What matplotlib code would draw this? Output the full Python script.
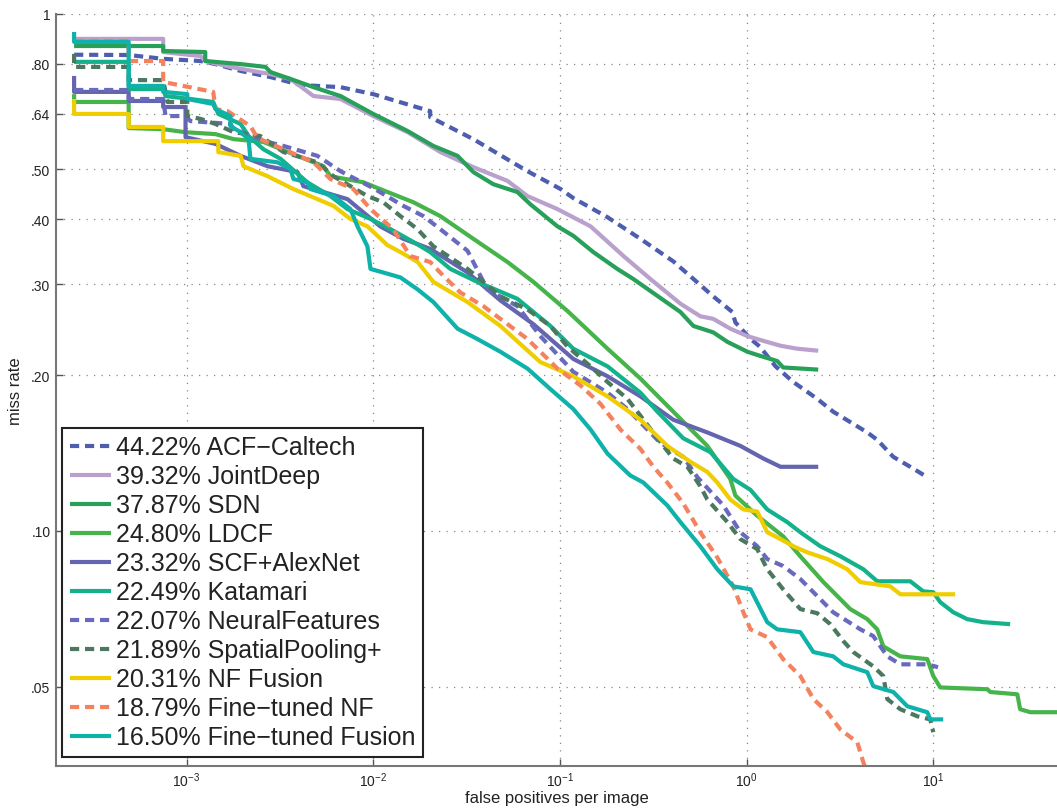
"""
Miss rate vs. false positives per image (Caltech style log-log curves).
"""

import matplotlib
matplotlib.use("Agg")
import matplotlib.pyplot as plt
from matplotlib.ticker import NullLocator, FixedLocator, FixedFormatter

plt.rcParams['font.family'] = ['Liberation Sans', 'DejaVu Sans']
plt.rcParams['mathtext.default'] = 'regular'

# ---- data (fppi, miss rate) ----
acf_fppi = [2.5e-4, 4.9e-4, 7.5e-4, 1.19e-3, 1.43e-3, 1.95e-3, 2.82e-3, 4.08e-3, 6.68e-3, 1.0e-2,
            2.02e-2, 2.02e-2, 3.44e-2, 6.7e-2, 0.101, 0.118, 0.180, 0.270, 0.405, 0.519, 0.663,
            0.839, 0.871, 1.05, 1.18, 1.43, 1.78, 2.39, 2.91, 3.73, 4.43, 5.01, 6.11, 7.53, 9.29]
acf_mr = [0.833, 0.832, 0.818, 0.810, 0.799, 0.775, 0.754, 0.728, 0.721, 0.699,
          0.648, 0.631, 0.572, 0.496, 0.458, 0.440, 0.404, 0.367, 0.332, 0.307, 0.284,
          0.265, 0.253, 0.235, 0.227, 0.208, 0.194, 0.180, 0.170, 0.161, 0.155, 0.150, 0.139, 0.133, 0.127]

jd_fppi = [2.5e-4, 7.5e-4, 7.5e-4, 1.19e-3, 1.26e-3, 1.72e-3, 2.82e-3, 3.60e-3, 4.79e-3, 6.68e-3,
           1.0e-2, 1.53e-2, 2.29e-2, 3.44e-2, 5.24e-2, 6.70e-2, 9.70e-2, 0.146, 0.219, 0.305,
           0.442, 0.565, 0.663, 0.818, 1.01, 1.23, 1.52, 1.87, 2.42]
jd_mr = [0.894, 0.894, 0.843, 0.828, 0.810, 0.789, 0.764, 0.748, 0.693, 0.684,
         0.634, 0.590, 0.540, 0.505, 0.475, 0.444, 0.419, 0.388, 0.340, 0.307,
         0.275, 0.260, 0.257, 0.246, 0.238, 0.233, 0.228, 0.225, 0.223]

sdn_fppi = [2.5e-4, 7.5e-4, 7.5e-4, 1.26e-3, 1.26e-3, 1.95e-3, 2.65e-3, 2.82e-3, 3.60e-3, 4.79e-3,
            6.68e-3, 1.0e-2, 1.53e-2, 2.10e-2, 2.83e-2, 3.44e-2, 4.40e-2, 5.92e-2, 6.95e-2, 9.70e-2,
            0.118, 0.151, 0.203, 0.247, 0.442, 0.519, 0.663, 0.789, 1.01, 1.18, 1.46, 1.57, 2.42]
sdn_mr = [0.866, 0.866, 0.847, 0.843, 0.810, 0.799, 0.789, 0.771, 0.748, 0.721,
          0.693, 0.640, 0.593, 0.555, 0.531, 0.494, 0.468, 0.452, 0.428, 0.388,
          0.372, 0.346, 0.321, 0.307, 0.265, 0.249, 0.242, 0.232, 0.222, 0.218, 0.213, 0.207, 0.205]

ldcf_fppi = [2.5e-4, 2.5e-4, 4.9e-4, 4.9e-4, 7.5e-4, 9.88e-4, 1.43e-3, 1.79e-3, 2.58e-3, 3.93e-3, 5.42e-3,
             5.90e-3, 8.87e-3, 1.09e-2, 1.64e-2, 2.29e-2, 3.44e-2, 5.24e-2, 7.21e-2, 0.110,
             0.180, 0.270, 0.405, 0.616, 0.818, 0.871, 1.14, 1.57, 1.94, 2.58,
             3.59, 4.43, 5.01, 5.40, 6.66, 9.29, 10.0, 10.9, 19.5, 20.2,
             28.2, 29.2, 33.1, 46.1]
ldcf_mr = [0.699, 0.675, 0.675, 0.601, 0.598, 0.590, 0.585, 0.572, 0.565, 0.531, 0.507,
           0.485, 0.472, 0.458, 0.432, 0.406, 0.367, 0.331, 0.303, 0.266,
           0.225, 0.197, 0.170, 0.146, 0.126, 0.117, 0.107, 0.0976, 0.0893, 0.0796,
           0.0706, 0.0675, 0.0645, 0.0598, 0.0572, 0.0565, 0.0524, 0.0498, 0.0494, 0.0488,
           0.0483, 0.0452, 0.0446, 0.0446]

scf_fppi = [2.5e-4, 2.5e-4, 4.9e-4, 4.9e-4, 7.5e-4, 7.5e-4, 9.88e-4, 9.88e-4, 1.43e-3, 1.95e-3, 2.72e-3,
            3.93e-3, 4.23e-3, 7.28e-3, 1.09e-2, 1.45e-2, 2.02e-2, 3.20e-2, 4.80e-2, 7.21e-2,
            0.118, 0.180, 0.270, 0.405, 0.616, 0.926, 1.23, 1.52, 2.42]
scf_mr = [0.758, 0.706, 0.706, 0.678, 0.678, 0.660, 0.660, 0.577, 0.560, 0.531, 0.507,
          0.494, 0.464, 0.438, 0.388, 0.367, 0.351, 0.316, 0.279, 0.251,
          0.215, 0.199, 0.182, 0.164, 0.155, 0.146, 0.138, 0.133, 0.133]

kat_fppi = [2.5e-4, 4.9e-4, 4.9e-4, 7.5e-4, 7.72e-4, 1.05e-3, 1.39e-3, 1.48e-3, 1.95e-3, 2.15e-3,
            2.58e-3, 3.19e-3, 4.44e-3, 5.90e-3, 7.28e-3, 9.67e-3, 1.24e-2, 1.64e-2, 2.02e-2, 2.59e-2,
            3.61e-2, 5.92e-2, 8.89e-2, 0.118, 0.180, 0.270, 0.333, 0.458, 0.640, 0.849,
            1.05, 1.29, 1.65, 1.94, 2.48, 3.18, 4.22, 5.01, 7.53, 8.84,
            10.0, 10.9, 12.8, 15.2, 18.5, 25.8]
kat_mr = [0.807, 0.807, 0.715, 0.715, 0.693, 0.684, 0.675, 0.640, 0.612, 0.580,
          0.547, 0.524, 0.472, 0.444, 0.419, 0.401, 0.383, 0.362, 0.346, 0.321,
          0.303, 0.281, 0.249, 0.225, 0.208, 0.185, 0.170, 0.151, 0.142, 0.126,
          0.120, 0.110, 0.104, 0.0994, 0.0934, 0.0893, 0.0843, 0.0799, 0.0799, 0.0764,
          0.0761, 0.0728, 0.0696, 0.0675, 0.0666, 0.0660]

nf_fppi = [2.5e-4, 4.9e-4, 4.9e-4, 7.5e-4, 7.72e-4, 9.88e-4, 1.05e-3, 1.72e-3, 1.79e-3, 2.72e-3,
           3.31e-3, 5.03e-3, 6.68e-3, 1.0e-2, 1.45e-2, 1.86e-2, 2.29e-2, 3.20e-2, 4.09e-2, 5.92e-2,
           7.86e-2, 0.118, 0.180, 0.230, 0.345, 0.458, 0.545, 0.751, 0.926, 1.14,
           1.29, 1.57, 1.94, 2.28, 2.91, 4.07, 4.77, 5.67, 6.66, 9.29, 10.6]
nf_mr = [0.712, 0.712, 0.684, 0.684, 0.634, 0.634, 0.620, 0.612, 0.598, 0.565,
         0.555, 0.531, 0.496, 0.460, 0.425, 0.406, 0.383, 0.348, 0.293, 0.272,
         0.238, 0.203, 0.185, 0.172, 0.148, 0.139, 0.127, 0.112, 0.0994, 0.0934,
         0.0882, 0.0855, 0.0807, 0.0761, 0.0696, 0.0645, 0.0626, 0.0572, 0.0552, 0.0552, 0.0545]

sp_fppi = [2.5e-4, 2.5e-4, 4.9e-4, 4.9e-4, 7.5e-4, 7.91e-4, 1.01e-3, 1.01e-3, 1.19e-3, 1.43e-3, 1.79e-3,
           2.49e-3, 3.31e-3, 5.03e-3, 6.12e-3, 9.31e-3, 1.13e-2, 1.40e-2, 1.73e-2, 2.10e-2, 3.20e-2,
           3.89e-2, 4.80e-2, 6.70e-2, 8.89e-2, 0.110, 0.146, 0.180, 0.230, 0.270, 0.358,
           0.405, 0.482, 0.565, 0.616, 0.789, 0.926, 1.14, 1.29, 1.57, 1.94,
           2.39, 2.81, 3.30, 3.73, 4.77, 5.40, 5.67, 6.66, 8.21, 9.64, 10.0]
sp_mr = [0.836, 0.789, 0.789, 0.744, 0.744, 0.675, 0.675, 0.634, 0.626, 0.612, 0.590,
         0.580, 0.540, 0.516, 0.485, 0.444, 0.432, 0.406, 0.383, 0.355, 0.321,
         0.303, 0.284, 0.268, 0.249, 0.227, 0.208, 0.194, 0.180, 0.167, 0.146,
         0.138, 0.133, 0.122, 0.115, 0.104, 0.0964, 0.0922, 0.0843, 0.0771, 0.0706,
         0.0693, 0.0660, 0.0612, 0.0583, 0.0547, 0.0524, 0.0473, 0.0452, 0.0438, 0.0432, 0.0408]

nff_fppi = [2.5e-4, 2.5e-4, 4.9e-4, 4.9e-4, 7.5e-4, 7.5e-4, 1.48e-3, 1.48e-3, 1.95e-3, 2.02e-3, 2.72e-3,
            3.74e-3, 5.03e-3, 6.12e-3, 7.55e-3, 9.31e-3, 1.19e-2, 1.40e-2, 1.73e-2, 2.10e-2, 3.20e-2,
            4.80e-2, 7.86e-2, 0.118, 0.180, 0.270, 0.376, 0.500, 0.616, 0.697, 0.818,
            0.961, 1.14, 1.29, 1.52, 1.78, 2.11, 2.71, 3.46, 4.07, 5.89, 6.66, 13.1]
nff_mr = [0.684, 0.640, 0.640, 0.604, 0.604, 0.567, 0.567, 0.540, 0.531, 0.507, 0.485,
          0.458, 0.438, 0.425, 0.401, 0.388, 0.357, 0.346, 0.331, 0.303, 0.277,
          0.249, 0.212, 0.199, 0.182, 0.164, 0.146, 0.136, 0.130, 0.124, 0.115,
          0.110, 0.109, 0.0994, 0.0964, 0.0934, 0.0909, 0.0882, 0.0843, 0.0796, 0.0781, 0.0754, 0.0754]

ftnf_fppi = [2.5e-4, 4.9e-4, 4.9e-4, 7.5e-4, 7.5e-4, 1.39e-3, 1.43e-3, 1.66e-3, 2.20e-3, 2.40e-3,
             3.47e-3, 4.79e-3, 5.90e-3, 7.84e-3, 9.67e-3, 1.28e-2, 1.58e-2, 2.02e-2, 2.38e-2, 2.93e-2,
             3.89e-2, 4.80e-2, 6.70e-2, 9.70e-2, 0.129, 0.165, 0.211, 0.270, 0.317, 0.376,
             0.458, 0.565, 0.697, 0.849, 0.961, 1.05, 1.29, 1.57, 1.94, 2.28,
             2.71, 3.18, 3.92, 4.22, 4.43]
ftnf_mr = [0.886, 0.886, 0.810, 0.810, 0.738, 0.706, 0.654, 0.648, 0.606, 0.575,
           0.543, 0.516, 0.479, 0.458, 0.419, 0.383, 0.340, 0.331, 0.311, 0.289,
           0.272, 0.257, 0.235, 0.206, 0.191, 0.176, 0.157, 0.144, 0.133, 0.124,
           0.113, 0.0994, 0.0888, 0.0781, 0.0696, 0.0645, 0.0623, 0.0565, 0.0524, 0.0473,
           0.0446, 0.0413, 0.0390, 0.0357, 0.034]

ftf_fppi = [2.5e-4, 2.5e-4, 4.9e-4, 4.9e-4, 7.5e-4, 7.5e-4, 1.01e-3, 1.01e-3, 1.39e-3, 1.43e-3,
            1.72e-3, 1.72e-3, 1.95e-3, 2.15e-3, 2.20e-3, 3.07e-3, 3.60e-3, 3.74e-3, 4.44e-3, 4.61e-3,
            6.12e-3, 7.55e-3, 8.24e-3, 9.31e-3, 9.67e-3, 1.13e-2, 1.40e-2, 1.73e-2, 2.10e-2, 2.83e-2,
            3.61e-2, 4.80e-2, 6.70e-2, 8.89e-2, 0.118, 0.146, 0.180, 0.238, 0.280, 0.376,
            0.442, 0.565, 0.697, 0.849, 1.05, 1.29, 1.46, 1.94, 2.28, 2.91,
            3.30, 4.43, 4.77, 6.11, 7.26, 9.29, 9.64, 11.3]
ftf_mr = [0.922, 0.882, 0.882, 0.725, 0.725, 0.706, 0.699, 0.684, 0.669, 0.654,
          0.634, 0.606, 0.590, 0.572, 0.524, 0.516, 0.501, 0.479, 0.472, 0.458,
          0.444, 0.419, 0.388, 0.355, 0.321, 0.316, 0.309, 0.293, 0.277, 0.246,
          0.235, 0.222, 0.206, 0.188, 0.172, 0.157, 0.141, 0.128, 0.124, 0.112,
          0.104, 0.0934, 0.0843, 0.0781, 0.0771, 0.0666, 0.0645, 0.0637, 0.0583, 0.0572,
          0.0552, 0.0533, 0.0501, 0.0488, 0.0458, 0.0446, 0.0432, 0.0432]

labels = ['44.22% ACF\u2212Caltech', '39.32% JointDeep', '37.87% SDN', '24.80% LDCF',
          '23.32% SCF+AlexNet', '22.49% Katamari', '22.07% NeuralFeatures',
          '21.89% SpatialPooling+', '20.31% NF Fusion', '18.79% Fine\u2212tuned NF',
          '16.50% Fine\u2212tuned Fusion']

ytick_vals = [0.05, 0.10, 0.20, 0.30, 0.40, 0.50, 0.64, 0.80, 1.0]
ytick_labels = ['.05', '.10', '.20', '.30', '.40', '.50', '.64', '.80', '1']

# (x, y, color, dashed)
curves = [
    (acf_fppi, acf_mr, '#4e5eaf', True),
    (jd_fppi, jd_mr, '#b9a0cd', False),
    (sdn_fppi, sdn_mr, '#28a05a', False),
    (ldcf_fppi, ldcf_mr, '#46b44b', False),
    (scf_fppi, scf_mr, '#6464af', False),
    (kat_fppi, kat_mr, '#14b28c', False),
    (nf_fppi, nf_mr, '#6969be', True),
    (sp_fppi, sp_mr, '#4b785f', True),
    (nff_fppi, nff_mr, '#f0cd00', False),
    (ftnf_fppi, ftnf_mr, '#f5825f', True),
    (ftf_fppi, ftf_mr, '#0fb2aa', False),
]

fig = plt.figure(figsize=(10.57, 8.12), dpi=100)
ax = fig.add_axes([0.053, 0.0554, 0.947, 0.9265])

for (x, y, col, dashed), lab in zip(curves, labels):
    if dashed:
        ax.plot(x, y, color=col, lw=3, linestyle=(0, (2.2, 1.4)),
                dash_capstyle='butt', label=lab)
    else:
        ax.plot(x, y, color=col, lw=3, solid_capstyle='butt', label=lab)

ax.set_xscale('log')
ax.set_yscale('log')
ax.set_xlim(2e-4, 46)
ax.set_ylim(0.0351, 1.0)

ax.xaxis.set_major_locator(FixedLocator([1e-3, 1e-2, 1e-1, 1e0, 1e1]))
ax.xaxis.set_minor_locator(NullLocator())
ax.yaxis.set_major_locator(FixedLocator(ytick_vals))
ax.yaxis.set_major_formatter(FixedFormatter(ytick_labels))
ax.yaxis.set_minor_locator(NullLocator())

ax.grid(True, which='major', color='#888888', linestyle=(0, (1, 5)), lw=0.9)
ax.tick_params(direction='in', length=5, width=1, colors='#555555',
               labelcolor='#222222', labelsize=10, pad=4)
ax.tick_params(axis='x', pad=3)

for side in ['top', 'right']:
    ax.spines[side].set_visible(False)
for side in ['left', 'bottom']:
    ax.spines[side].set_color('#777777')
    ax.spines[side].set_linewidth(1.5)

ax.set_xlabel('false positives per image', fontsize=12, color='#222222', labelpad=1)
ax.set_ylabel('miss rate', fontsize=12, color='#222222', labelpad=6)

leg = ax.legend(loc='lower left', bbox_to_anchor=(0.006, 0.012), borderaxespad=0,
                fontsize=18, labelspacing=0.2, handlelength=1.64, handletextpad=0.2,
                borderpad=0.3, fancybox=False, framealpha=1, edgecolor='#222222')
leg.get_frame().set_linewidth(1.5)
for t in leg.get_texts():
    t.set_color('#222222')

fig.savefig('out.png', dpi=100)
